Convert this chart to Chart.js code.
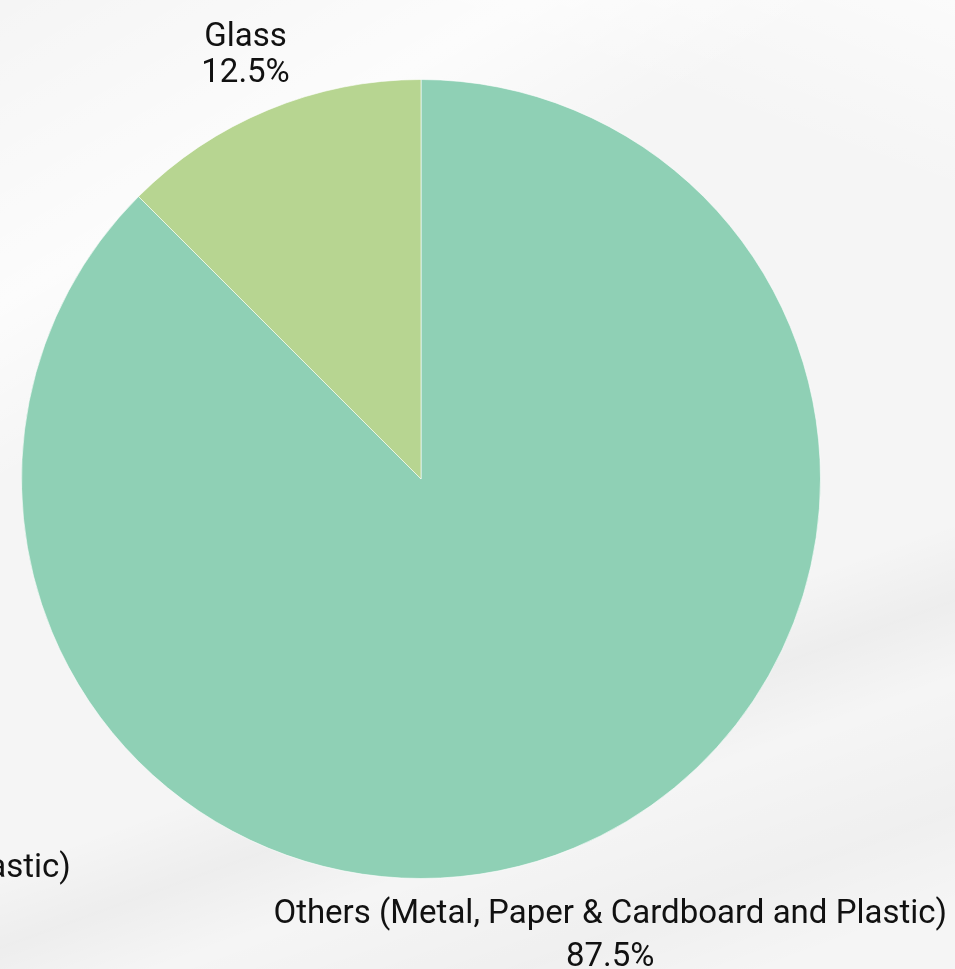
<!DOCTYPE html>
<html>
<head>
<meta charset="utf-8">
<script src="https://cdn.jsdelivr.net/npm/chart.js@4.4.1/dist/chart.umd.min.js"></script>
<style>
html,body{margin:0;padding:0;width:955px;height:969px;overflow:hidden;}
body{
  background:
    linear-gradient(160deg, rgba(0,0,0,0) 0%, rgba(0,0,0,0) 66%, rgba(0,0,0,0.03) 72%, rgba(0,0,0,0) 78%, rgba(0,0,0,0.025) 88%, rgba(0,0,0,0) 95%),
    linear-gradient(150deg, rgba(255,255,255,0) 0%, rgba(255,255,255,0.7) 20%, rgba(255,255,255,0) 32%, rgba(255,255,255,0) 100%),
    linear-gradient(200deg, rgba(255,255,255,0.6) 0%, rgba(255,255,255,0) 15%),
    #f5f5f5;
}
#wrap{position:absolute;left:0;top:0;width:955px;height:969px;}
</style>
</head>
<body>
<div id="wrap"><canvas id="c" width="955" height="969"></canvas></div>
<script>
const categories = ["Others (Metal, Paper & Cardboard and Plastic)", "Glass"];
const values = [87.5, 12.5];
const valueLabels = ["87.5%", "12.5%"];
const colors = ["#8fd0b5", "#b7d591"];

const outLabels = {
  id: 'outLabels',
  afterDatasetsDraw(chart, args, opts) {
    const ctx = chart.ctx;
    const meta = chart.getDatasetMeta(0);
    ctx.save();
    ctx.font = '400 33px Roboto';
    ctx.fillStyle = '#111';
    ctx.textAlign = 'center';
    ctx.textBaseline = 'middle';
    meta.data.forEach((arc, i) => {
      const p = arc.getProps(['x','y','startAngle','endAngle','outerRadius'], true);
      const mid = (p.startAngle + p.endAngle) / 2;
      const d = p.outerRadius + opts.offsets[i];
      const cx = p.x + Math.cos(mid) * d;
      const cy = p.y + Math.sin(mid) * d;
      const lh = opts.lineHeights[i];
      ctx.fillText(categories[i], cx, cy - lh / 2);
      ctx.fillText(valueLabels[i], cx, cy + lh / 2);
      if (i === 0) {
        // stray duplicate label partially outside the left edge
        ctx.fillText(categories[i], p.x - opts.ghostDx, p.y + opts.ghostDy);
      }
    });
    ctx.restore();
  }
};

new Chart(document.getElementById('c'), {
  type: 'pie',
  data: {
    labels: categories,
    datasets: [{
      data: values,
      backgroundColor: colors,
      borderColor: 'rgba(255,255,255,0.6)',
      borderWidth: 1
    }]
  },
  options: {
    responsive: false,
    animation: false,
    layout: { padding: { left: 21, right: 134, top: 79, bottom: 90 } },
    plugins: {
      legend: { display: false },
      tooltip: { enabled: false },
      outLabels: { offsets: [95, 59], lineHeights: [43, 36], ghostDx: 687, ghostDy: 390 }
    }
  },
  plugins: [outLabels]
});
</script>
</body>
</html>
